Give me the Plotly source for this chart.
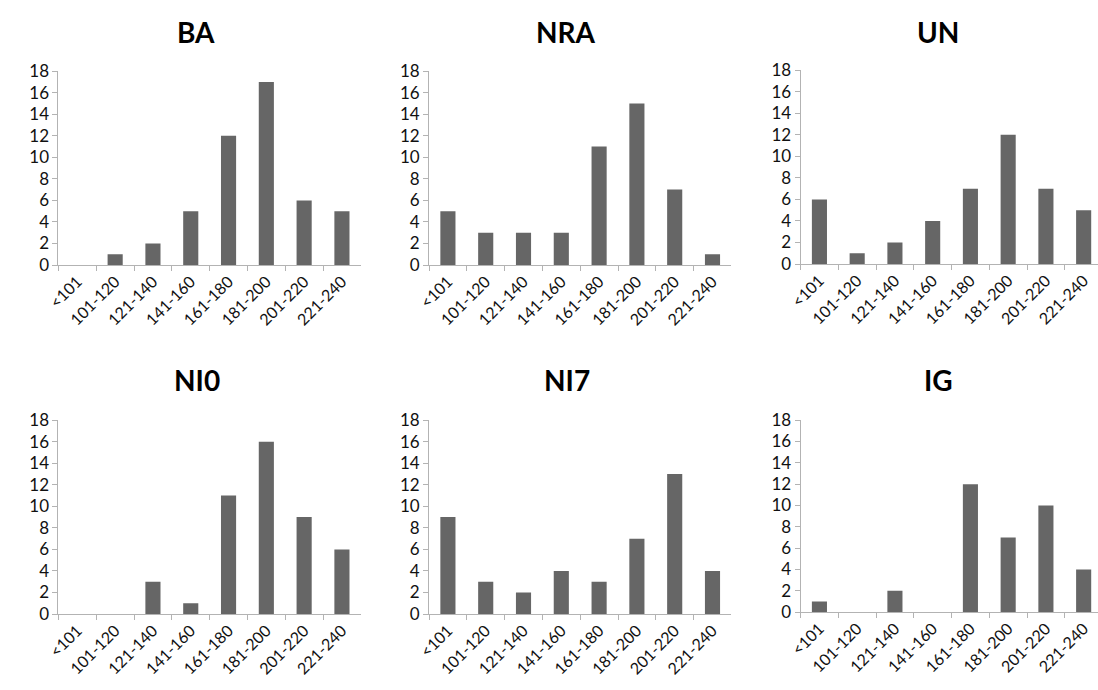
import plotly.graph_objects as go

categories = ["<101", "101-120", "121-140", "141-160", "161-180", "181-200", "201-220", "221-240"]
titles = ["BA", "NRA", "UN", "NI0", "NI7", "IG"]
ba = [0, 1, 2, 5, 12, 17, 6, 5]
nra = [5, 3, 3, 3, 11, 15, 7, 1]
un = [6, 1, 2, 4, 7, 12, 7, 5]
ni0 = [0, 0, 3, 1, 11, 16, 9, 6]
ni7 = [9, 3, 2, 4, 3, 7, 13, 4]
ig = [1, 0, 2, 0, 12, 7, 10, 4]
series = [ba, nra, un, ni0, ni7, ig]

W, H = 1098, 690
# pixel boxes: (x_left, x_right, y_top(18), y_bottom(0)), x range end
boxes = [
    (46, 352, 62, 262, 7.5),
    (421, 727, 62, 262, 7.5),
    (797, 1098, 61, 261, 7.38),
    (46, 352, 422, 622, 7.5),
    (421, 727, 422, 622, 7.5),
    (797, 1098, 422, 620, 7.38),
]
title_pos = [(185, 22), (560, 22), (936, 22), (186, 381), (561, 381), (937, 381)]

fig = go.Figure()
axis_gray = "#b3b3b3"
label_color = "#111111"
font_family = "Lato, 'Open Sans', sans-serif"

for i, (vals, box) in enumerate(zip(series, boxes)):
    n = "" if i == 0 else str(i + 1)
    xl, xr, yt, yb, xend = box
    fig.add_trace(go.Bar(
        x=categories, y=vals,
        xaxis="x" + n, yaxis="y" + n,
        marker=dict(color="#666666", line=dict(width=0)),
        showlegend=False,
    ))
    fig.update_layout(**{
        "xaxis" + n: dict(
            domain=[xl / W, xr / W],
            anchor="y" + n,
            type="category",
            range=[-0.5, xend],
            showline=True, linecolor=axis_gray, linewidth=1,
            ticks="outside", tickson="boundaries", ticklen=5, tickcolor=axis_gray,
            tickangle=-45,
            tickfont=dict(family=font_family, size=16, color=label_color),
            showgrid=False, zeroline=False, fixedrange=True,
        ),
        "yaxis" + n: dict(
            domain=[(H - yb) / H, (H - yt) / H],
            anchor="x" + n,
            range=[0, 18], dtick=2, tick0=0,
            showline=True, linecolor=axis_gray, linewidth=1,
            ticks="outside", ticklen=5, tickcolor=axis_gray,
            tickfont=dict(family=font_family, size=17, color=label_color),
            showgrid=False, zeroline=False, fixedrange=True,
        ),
    })

annotations = []
for t, (tx, ty) in zip(titles, title_pos):
    annotations.append(dict(
        text="<b>" + t + "</b>", x=tx / W, y=(H - ty) / H,
        xref="paper", yref="paper", xanchor="center", yanchor="middle",
        showarrow=False,
        font=dict(family=font_family, size=28, color="#000000"),
    ))

fig.update_layout(
    width=W, height=H,
    margin=dict(l=0, r=0, t=0, b=0),
    paper_bgcolor="white", plot_bgcolor="white",
    bargap=0.6,
    annotations=annotations,
)

fig.write_html(
    "out.html",
    config={"displayModeBar": False},
    post_script="document.body.style.margin='0';document.body.style.overflow='hidden';",
)
